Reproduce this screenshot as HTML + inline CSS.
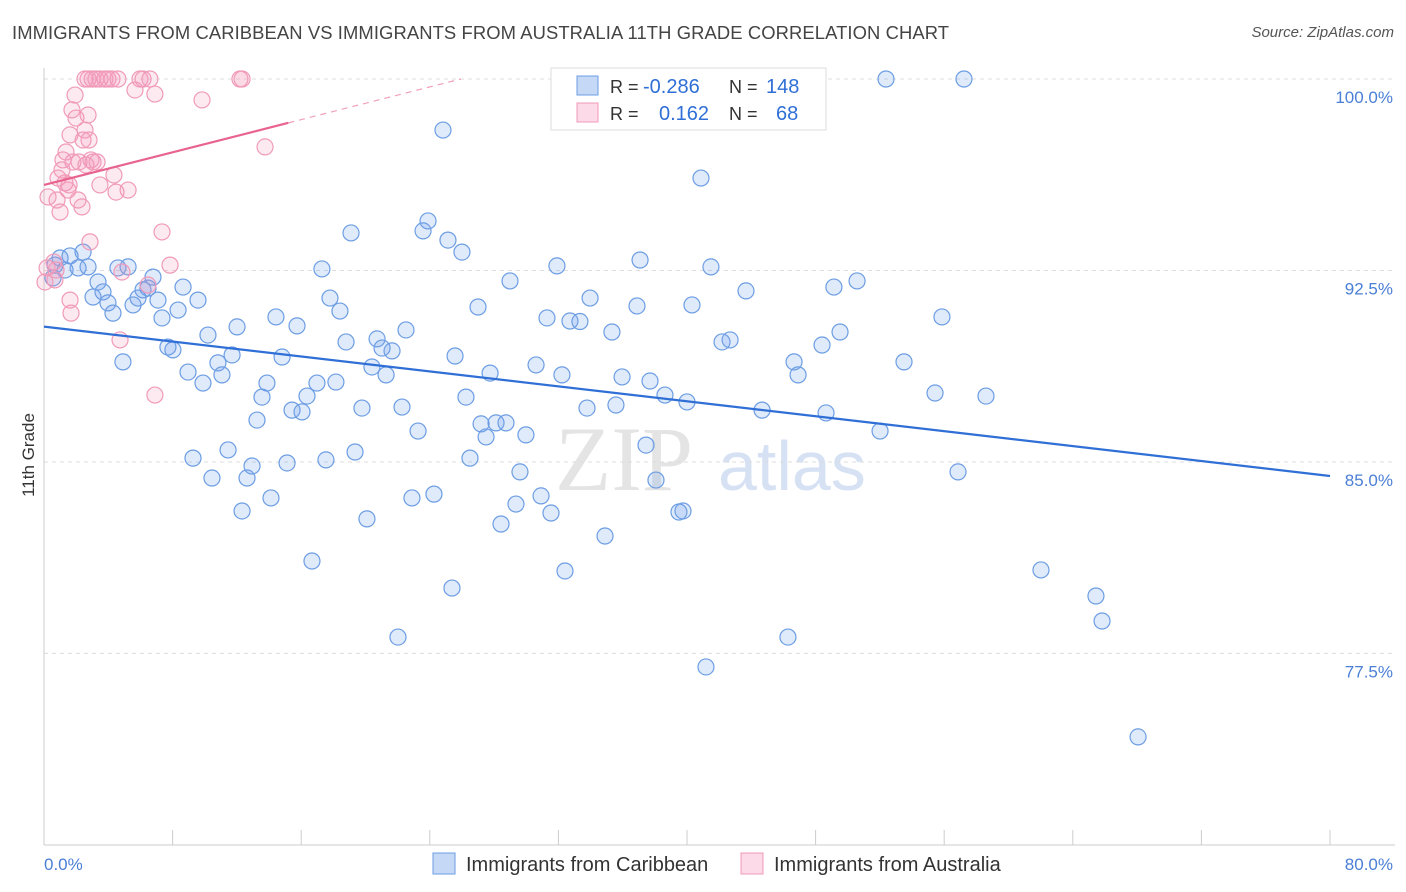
<!DOCTYPE html>
<html><head><meta charset="utf-8">
<style>
body{margin:0;background:#fff;font-family:"Liberation Sans",sans-serif;}
#wrap{position:relative;width:1406px;height:892px;overflow:hidden}
.title{position:absolute;left:12px;top:22px;font-size:18.4px;color:#444;letter-spacing:0.1px}
.source{position:absolute;right:12px;top:24px;font-size:15px;color:#555;font-style:italic}
</style></head>
<body>
<div id="wrap">
<div class="title">IMMIGRANTS FROM CARIBBEAN VS IMMIGRANTS FROM AUSTRALIA 11TH GRADE CORRELATION CHART</div>
<div class="source">Source: ZipAtlas.com</div>
<svg id="chart" width="1406" height="892" style="position:absolute;left:0;top:0"></svg>
</div>
<script>
const blueX=[0.68,1.0,1.31,1.62,2.12,2.43,2.74,3.05,3.36,3.67,3.98,4.29,4.60,4.91,5.23,5.54,5.85,6.16,6.47,6.78,7.09,7.34,7.71,8.02,8.34,8.65,8.96,9.27,9.58,9.89,10.20,10.45,10.82,11.07,11.45,11.70,12.01,12.32,12.63,12.94,13.25,13.56,13.87,14.12,14.43,14.81,15.12,15.43,15.74,16.05,16.36,16.67,16.98,17.29,17.54,17.79,18.16,18.41,18.79,19.10,19.35,19.78,20.09,20.40,20.72,21.03,21.28,21.65,22.02,22.27,22.52,22.89,23.27,23.58,23.89,24.26,24.82,25.13,25.38,25.57,26.0,26.25,26.5,27.0,27.19,27.5,27.75,28.12,28.43,28.74,28.99,29.36,29.61,29.98,30.61,30.92,31.29,31.54,31.91,32.22,32.41,32.72,33.34,33.78,33.97,34.9,35.33,35.58,35.96,36.89,37.08,37.45,37.7,38.07,38.63,39.5,39.75,40.0,40.31,40.87,41.18,41.49,42.18,42.68,43.67,44.67,46.28,46.66,46.91,48.4,48.65,49.14,49.52,50.58,52.01,52.38,53.5,55.43,55.86,56.86,57.23,58.6,62.02,65.44,65.82,68.06,0.56];
const blueY=[92.71,92.99,92.52,93.07,92.60,93.22,92.64,91.46,92.05,91.66,91.23,90.83,92.60,88.92,92.64,91.15,91.42,91.74,91.81,92.24,91.34,90.64,89.50,89.39,90.95,91.85,88.52,85.15,91.34,88.09,89.97,84.37,88.88,88.41,85.47,89.19,90.29,83.08,84.37,84.84,86.64,87.54,88.09,83.59,90.68,89.11,84.96,87.03,90.33,86.96,87.58,81.12,88.09,92.56,85.08,91.42,88.13,90.91,89.70,93.97,85.39,87.11,82.77,88.72,89.82,89.46,88.41,89.35,78.14,87.15,90.17,83.59,86.21,94.05,94.44,83.74,98.0,93.69,80.06,89.15,93.22,87.54,85.15,91.07,86.49,85.98,88.48,86.53,82.57,86.53,92.09,83.35,84.61,86.06,88.8,83.67,90.64,83.0,92.68,88.41,80.73,90.52,90.5,87.11,91.42,82.1,90.09,87.23,88.33,91.11,92.91,85.66,88.17,84.29,87.62,83.04,83.08,87.35,91.15,96.12,76.97,92.64,89.7,89.78,91.70,87.03,78.14,88.92,88.41,89.58,86.92,91.85,90.09,92.09,86.21,100,88.92,87.7,90.68,84.61,100,87.58,80.77,79.75,78.77,74.23,92.21];
const pinkX=[0.68,0.75,0.62,0.81,0.87,1.0,1.12,1.18,1.31,1.37,1.49,1.56,1.62,1.74,1.8,1.93,1.99,2.12,2.18,2.36,2.43,2.55,2.61,2.74,2.8,2.86,2.92,3.05,3.3,3.48,3.79,3.98,4.23,4.35,4.48,4.6,4.85,5.23,5.66,5.97,6.16,6.59,6.9,6.9,7.34,7.84,9.83,12.19,12.32,13.75,1.62,1.68,2.55,2.74,2.99,3.23,3.48,4.73,6.47,0.06,0.19,0.25];
const pinkY=[92.13,92.52,92.83,95.26,96.12,94.79,96.44,96.83,95.93,97.14,95.65,95.85,97.81,98.79,96.75,99.37,98.47,95.26,96.75,94.99,97.61,98.0,96.63,98.59,97.61,93.62,96.83,96.75,96.75,95.85,100,100,100,96.24,95.57,100,92.44,95.65,99.57,100,100,100,99.41,87.62,94.01,92.71,99.18,100,100,97.34,91.34,90.83,100,100,100,100,100,89.78,91.93,92.05,92.6,95.38];
const blueTrend=[90.3,84.45];
const pinkTrend=[95.85,0.16];
const yTicks=[100,92.5,85,77.5];
const yTickLabels=["100.0%","92.5%","85.0%","77.5%"];
const xTicks=[0,8,16,24,32,40,48,56,64,72,80];
const xEndLabels=["0.0%","80.0%"];

const NS="http://www.w3.org/2000/svg";
const svg=document.getElementById('chart');
const X0=44,X1=1330,Y100=79,PXPER=25.53;
const sx=v=>X0+(v/80)*(X1-X0);
const sy=v=>Y100+(100-v)*PXPER;
function el(tag,attrs,parent){const e=document.createElementNS(NS,tag);for(const k in attrs)e.setAttribute(k,attrs[k]);(parent||svg).appendChild(e);return e;}

const wm=el('text',{x:555,y:490,'font-size':92,'font-family':'Liberation Serif, serif',fill:'#e4e4e4'});
wm.textContent='ZIP';


const wm2=el('text',{x:718,y:490,'font-size':70,'font-family':'Liberation Sans, sans-serif',fill:'#d6e2f4'});
wm2.textContent='atlas';



yTicks.forEach((t,i)=>{
  const g=el('line',{x1:X0,x2:1395,y1:sy(t),y2:sy(t),stroke:'#dcdcdc','stroke-dasharray':'4,4','stroke-width':1});
  
  
  const lb=el('text',{x:1393,y:sy(t)+24,'text-anchor':'end','font-size':17,fill:'#4a7fd6'});
  lb.textContent=yTickLabels[i];
  
  
});
const ya=el('line',{x1:X0,x2:X0,y1:68,y2:845,stroke:'#ccc'});


const xa=el('line',{x1:X0,x2:1395,y1:845,y2:845,stroke:'#ccc'});


xTicks.forEach(t=>{
  const tk=el('line',{x1:sx(t),x2:sx(t),y1:830,y2:845,stroke:'#ccc'});
  
  
});
const xl0=el('text',{x:44,y:870,'font-size':17,fill:'#4a7fd6'});
xl0.textContent=xEndLabels[0];


const xl1=el('text',{x:1393,y:870,'font-size':17,fill:'#4a7fd6','text-anchor':'end'});
xl1.textContent=xEndLabels[1];


const yt=el('text',{x:34,y:455,'font-size':17,fill:'#333','text-anchor':'middle',transform:'rotate(-90 34 455)'});
yt.textContent='11th Grade';



blueX.forEach((v,i)=>{
  const c=el('circle',{cx:sx(v),cy:sy(blueY[i]),r:8,fill:'rgba(110,160,235,0.22)',stroke:'#6c9de3','stroke-width':1.2});
  
  
});
pinkX.forEach((v,i)=>{
  const c=el('circle',{cx:sx(v),cy:sy(pinkY[i]),r:8,fill:'rgba(245,150,185,0.2)',stroke:'#f09ab8','stroke-width':1.2});
  
  
});
const bt=el('line',{x1:sx(0),y1:sy(blueTrend[0]),x2:sx(80),y2:sy(blueTrend[1]),stroke:'#2f6fd6','stroke-width':2.2});


const pEnd=15.2, pDash=(100-pinkTrend[0])/pinkTrend[1];
const pt=el('line',{x1:sx(0),y1:sy(pinkTrend[0]),x2:sx(pEnd),y2:sy(pinkTrend[0]+pinkTrend[1]*pEnd),stroke:'#e8648f','stroke-width':2.2});


const pd=el('line',{x1:sx(pEnd),y1:sy(pinkTrend[0]+pinkTrend[1]*pEnd),x2:sx(pDash),y2:sy(100),stroke:'#f0a0ba','stroke-width':1.2,'stroke-dasharray':'6,5'});



const lg=el('g',{});


el('rect',{x:551,y:68,width:275,height:62,fill:'#fff',stroke:'#ddd'},lg);
el('rect',{x:577,y:76,width:21,height:19,fill:'rgba(110,160,235,0.4)',stroke:'#6c9de3'},lg);
el('rect',{x:577,y:103,width:21,height:19,fill:'rgba(245,150,185,0.35)',stroke:'#f09ab8'},lg);
[['R = ',610,93,'#333'],['-0.286',643,93,'#2f6fd6'],['N = ',729,93,'#333'],['148',766,93,'#2f6fd6'],
 ['R = ',610,120,'#333'],['0.162',659,120,'#2f6fd6'],['N = ',729,120,'#333'],['68',776,120,'#2f6fd6']].forEach(a=>{
  const t=el('text',{x:a[1],y:a[2],'font-size':a[3]=='#333'?18:20,fill:a[3]},lg);t.textContent=a[0];
});
const bl=el('g',{});


el('rect',{x:433,y:853,width:22,height:21,fill:'rgba(110,160,235,0.4)',stroke:'#6c9de3'},bl);
const b1=el('text',{x:466,y:871,'font-size':20,fill:'#333'},bl);b1.textContent='Immigrants from Caribbean';
el('rect',{x:741,y:853,width:22,height:21,fill:'rgba(245,150,185,0.35)',stroke:'#f09ab8'},bl);
const b2=el('text',{x:774,y:871,'font-size':20,fill:'#333'},bl);b2.textContent='Immigrants from Australia';
</script>
</body></html>
